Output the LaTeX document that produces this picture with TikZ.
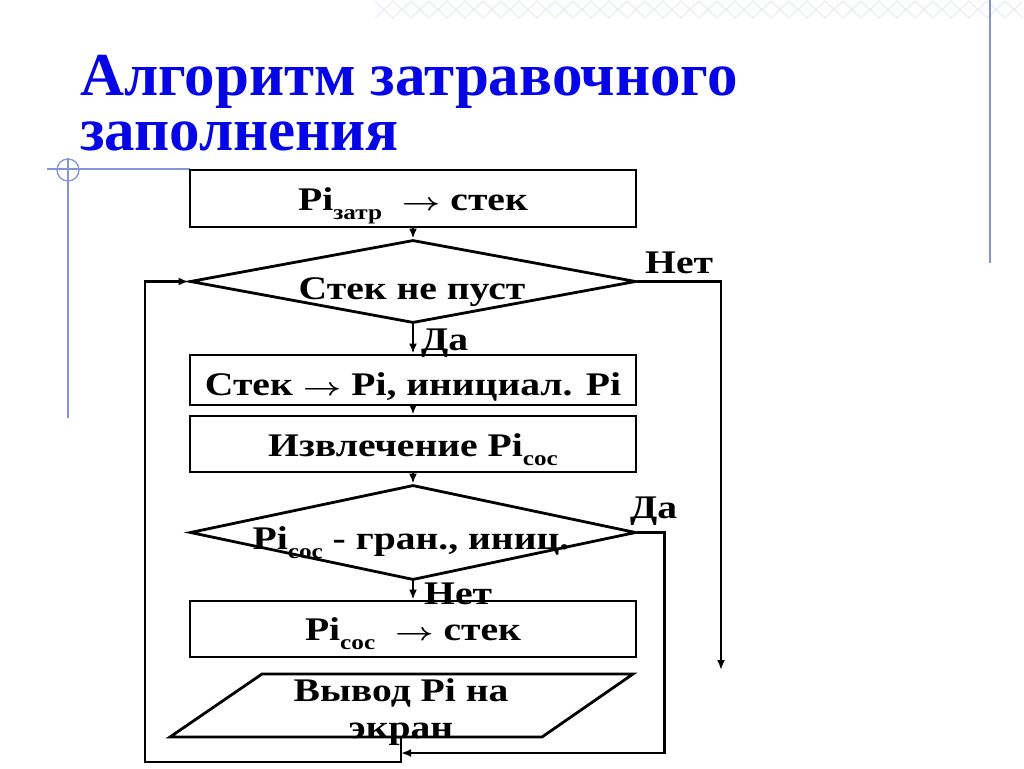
\documentclass[tikz,border=0pt]{standalone}
\usepackage{fontspec}
\setmainfont{Liberation Serif}
\newfontfamily\flowfont[FakeStretch=1.2]{Liberation Serif}
\usetikzlibrary{shapes.geometric,arrows.meta}
\definecolor{ttl}{RGB}{5,5,230}
\definecolor{deco}{RGB}{130,148,220}
\definecolor{patt}{RGB}{225,230,245}
\newcommand\lowsub[1]{\raisebox{-9pt}{\fontsize{21}{21}\selectfont #1}}
\newcommand\flowarrow{\scalebox{1.35}[1.0]{\boldmath$\rightarrow$}}
\begin{document}
\begin{tikzpicture}[x=1pt,y=-1pt,
  box/.style={draw, line width=2.8pt, minimum width=446pt, inner sep=0},
  dia/.style={draw, diamond, line width=2.8pt, minimum width=446pt, inner sep=0},
  txt/.style={font=\flowfont\fontsize{33}{35}\selectfont\bfseries, inner sep=0, anchor=base},
  arr/.style={line width=2.8pt, -{Latex[length=10pt,width=8pt]}},
  ln/.style={line width=2.8pt, line join=miter},
  ttlstyle/.style={anchor=base west, text=ttl, font=\fontsize{61}{61}\selectfont\bfseries, inner sep=0},
  decoline/.style={draw=deco, line width=1.3pt},
]
\useasboundingbox (0,0) rectangle (1024,768);
\fill[white] (0,0) rectangle (1024,768);
% background band
\foreach \i in {0,...,35} {
  \draw[patt, line width=0.7pt] (375+\i*18,1) -- ++(18,17) (393+\i*18,1) -- ++(-18,17);
}
\draw[decoline, line width=2pt] (990,0) -- (990,263);
\draw[decoline] (47,169) -- (190,169);
\draw[decoline] (68,158) -- (68,418);
\draw[decoline] (68,170) circle (11pt);
% title
\node[ttlstyle] (ti1) at (80,95) {Алгоритм затравочного};
\node[ttlstyle] (ti2) at (80,150) {заполнения};
% shapes
\node[box, minimum height=57pt] (b1) at (413,198.5) {};
\node[dia, minimum height=83pt] (d1) at (413,281.5) {};
\node[box, minimum height=50pt] (b2) at (413,380) {};
\node[box, minimum height=56pt] (b3) at (413,444) {};
\node[dia, minimum height=95pt] (d2) at (413,532.5) {};
\node[box, minimum height=56pt] (b4) at (413,629) {};
\coordinate (p1) at (262,674);
\coordinate (p2) at (633,674);
\coordinate (p3) at (542,737);
\coordinate (p4) at (170,737);
\coordinate (pb) at (401,737);
\draw[ln] (p1) -- (p2) -- (p3) -- (p4) -- cycle;
% texts
\node[txt] (t1) at (413,210) {Pi\lowsub{затр}\ \ \flowarrow\ стек};
\node[txt] (t2) at (412,299) {Стек не пуст};
\node[txt] (t3) at (413,395) {Стек \flowarrow\ Pi, инициал. Pi};
\node[txt] (t4) at (413,456) {Извлечение Pi\lowsub{сос}};
\node[txt] (t5) at (411,549) {Pi\lowsub{сос} - гран., иниц.};
\node[txt] (t6) at (413,640) {Pi\lowsub{сос}\ \ \flowarrow\ стек};
\node[txt] (t7) at (401,701) {Вывод Pi на};
\node[txt] (t8) at (401,738) {экран};
\node[txt, anchor=base west] (l1) at (645,273) {Нет};
\node[txt, anchor=base west] (l2) at (421,350) {Да};
\node[txt, anchor=base west] (l3) at (630,518) {Да};
\node[txt, anchor=base west] (l4) at (424,604) {Нет};
% connectors
\draw[arr] (b1.south) -- (d1.north);
\draw[arr] (d1.south) -- (b2.north);
\draw[arr] (b2.south) -- (b3.north);
\draw[arr] (b3.south) -- (d2.north);
\draw[arr] (d2.south) -- (b4.north);
\coordinate (nt) at (721,670);
\draw[arr] (d1.east) -| (nt);
\coordinate (rj) at (401,753);
\draw[arr] (d2.east) -- ++(27,0) |- (rj);
\coordinate (lb) at (145,762);
\draw[arr] (pb) -- (pb |- lb) -- (lb) |- (d1.west);
\end{tikzpicture}
\end{document}
